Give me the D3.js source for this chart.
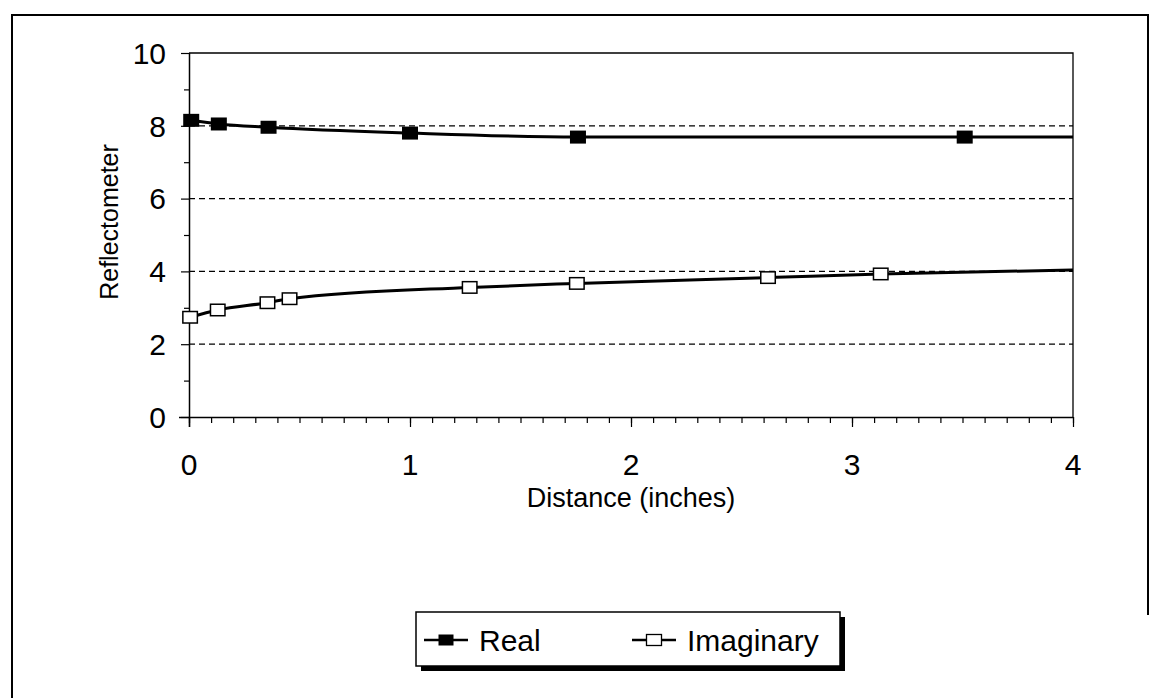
<!DOCTYPE html>
<html>
<head>
<meta charset="utf-8">
<script src="https://cdn.jsdelivr.net/npm/d3@7"></script>
<style>
  html, body { margin: 0; padding: 0; background: #fff; }
  svg { display: block; font-family: "Liberation Sans", Arial, sans-serif; }
</style>
</head>
<body>
<svg id="chart" width="1155" height="698"></svg>
<script>
// ---- data ----
const realX = [0.01, 0.135, 0.36, 1.0, 1.76, 3.51];
const realY = [8.15, 8.05, 7.96, 7.80, 7.69, 7.69];
const imagX = [0.005, 0.13, 0.355, 0.455, 1.27, 1.755, 2.62, 3.13];
const imagY = [2.74, 2.94, 3.14, 3.25, 3.56, 3.67, 3.83, 3.93];
// smoothed line continues to the right edge of the axis
const lineEndX = 4;
const realLineEnd = 7.69;
const imagLineEnd = 4.04;
const xTicks = [0, 1, 2, 3, 4];
const yTicks = [0, 2, 4, 6, 8, 10];
const yGrid = [2, 4, 6, 8];
const seriesNames = ["Real", "Imaginary"];
const xTitle = "Distance (inches)";
const yTitle = "Reflectometer";

// ---- layout ----
const svg = d3.select("#chart");
const L = 189, R = 1073, T = 53, B = 417;
const x = d3.scaleLinear().domain([0, 4]).range([L, R]);
const y = d3.scaleLinear().domain([0, 10]).range([B, T]);

// outer frame (left, top, right)
svg.append("path")
  .attr("d", `M12,698 L12,15 L1148,15 L1148,615`)
  .attr("fill", "none").attr("stroke", "#000").attr("stroke-width", 2);

// gridlines
svg.append("g").selectAll("line").data(yGrid).join("line")
  .attr("x1", L).attr("x2", R)
  .attr("y1", d => y(d)).attr("y2", d => y(d))
  .attr("stroke", "#000").attr("stroke-width", 1.3)
  .attr("stroke-dasharray", "6,4");

// plot border top and right
svg.append("path")
  .attr("d", `M${L},${T} L${R},${T} L${R},${B}`)
  .attr("fill", "none").attr("stroke", "#000").attr("stroke-width", 1.3);

// x axis
const xAxis = d3.axisBottom(x).tickValues(d3.range(0, 4.0001, 0.1)).tickSize(6).tickFormat("");
const gx = svg.append("g").attr("transform", `translate(0,${B})`).call(xAxis);
gx.select(".domain").attr("stroke-width", 1.5).attr("d", `M${L - 10},0.5H${R}`);
gx.selectAll(".tick line").attr("stroke-width", 1.2);
svg.append("g").attr("transform", `translate(0,${B})`)
  .call(d3.axisBottom(x).tickValues(xTicks).tickSize(10).tickFormat(""))
  .call(g => g.select(".domain").remove())
  .selectAll(".tick line").attr("stroke-width", 1.2);
svg.append("g").selectAll("text").data(xTicks).join("text")
  .attr("x", d => x(d)).attr("y", 475)
  .attr("text-anchor", "middle").attr("font-size", 30).text(d => d);

// y axis
const yAxis = d3.axisLeft(y).tickValues(d3.range(1, 10, 2)).tickSize(5).tickFormat("");
const gy = svg.append("g").attr("transform", `translate(${L},0)`).call(yAxis);
gy.select(".domain").attr("stroke-width", 1.5).attr("d", `M0.5,${T}V${B + 10}`);
gy.selectAll(".tick line").attr("stroke-width", 1.2);
svg.append("g").attr("transform", `translate(${L},0)`)
  .call(d3.axisLeft(y).tickValues(yTicks).tickSize(8).tickFormat(""))
  .call(g => g.select(".domain").remove())
  .selectAll(".tick line").attr("stroke-width", 1.2);
svg.append("g").selectAll("text").data(yTicks).join("text")
  .attr("x", 166).attr("y", d => y(d))
  .attr("dy", "0.36em")
  .attr("text-anchor", "end").attr("font-size", 30).text(d => d);

// titles
svg.append("text").attr("x", (L + R) / 2).attr("y", 507)
  .attr("text-anchor", "middle").attr("font-size", 27).text(xTitle);
svg.append("text").attr("transform", "translate(118,222) rotate(-90)")
  .attr("text-anchor", "middle").attr("font-size", 25).text(yTitle);

// lines
const line = d3.line().x(d => x(d[0])).y(d => y(d[1])).curve(d3.curveMonotoneX);
const realPts = realX.map((v, i) => [v, realY[i]]).concat([[lineEndX, realLineEnd]]);
const imagPts = imagX.map((v, i) => [v, imagY[i]]).concat([[lineEndX, imagLineEnd]]);
svg.append("path").attr("d", line(realPts)).attr("fill", "none")
  .attr("stroke", "#000").attr("stroke-width", 3);
svg.append("path").attr("d", line(imagPts)).attr("fill", "none")
  .attr("stroke", "#000").attr("stroke-width", 3);

// markers
const mw = 16, mh = 13;
svg.append("g").selectAll("rect").data(realX.map((v, i) => [v, realY[i]])).join("rect")
  .attr("x", d => x(d[0]) - mw / 2).attr("y", d => y(d[1]) - mh / 2)
  .attr("width", mw).attr("height", mh).attr("fill", "#000");
svg.append("g").selectAll("rect").data(imagX.map((v, i) => [v, imagY[i]])).join("rect")
  .attr("x", d => x(d[0]) - mw / 2 + 0.75).attr("y", d => y(d[1]) - mh / 2 + 0.75)
  .attr("width", mw - 1.5).attr("height", mh - 1.5)
  .attr("fill", "#fff").attr("stroke", "#000").attr("stroke-width", 1.5);

// legend
const lg = svg.append("g");
lg.append("rect").attr("x", 421).attr("y", 617).attr("width", 424).attr("height", 54).attr("fill", "#000");
lg.append("rect").attr("x", 416).attr("y", 612).attr("width", 424).attr("height", 54)
  .attr("fill", "#fff").attr("stroke", "#000").attr("stroke-width", 1.5);
const legendItems = [
  { name: seriesNames[0], x0: 424, x1: 468, tx: 479, filled: true },
  { name: seriesNames[1], x0: 632, x1: 676, tx: 687, filled: false }
];
legendItems.forEach(it => {
  lg.append("line").attr("x1", it.x0).attr("x2", it.x1).attr("y1", 640).attr("y2", 640)
    .attr("stroke", "#000").attr("stroke-width", 2.5);
  const cx = (it.x0 + it.x1) / 2;
  lg.append("rect").attr("x", cx - 7.5).attr("y", 640 - 5.5).attr("width", 15).attr("height", 11)
    .attr("fill", it.filled ? "#000" : "#fff").attr("stroke", "#000").attr("stroke-width", it.filled ? 0 : 1.3);
  lg.append("text").attr("x", it.tx).attr("y", 651).attr("font-size", 30).text(it.name);
});
</script>
</body>
</html>
